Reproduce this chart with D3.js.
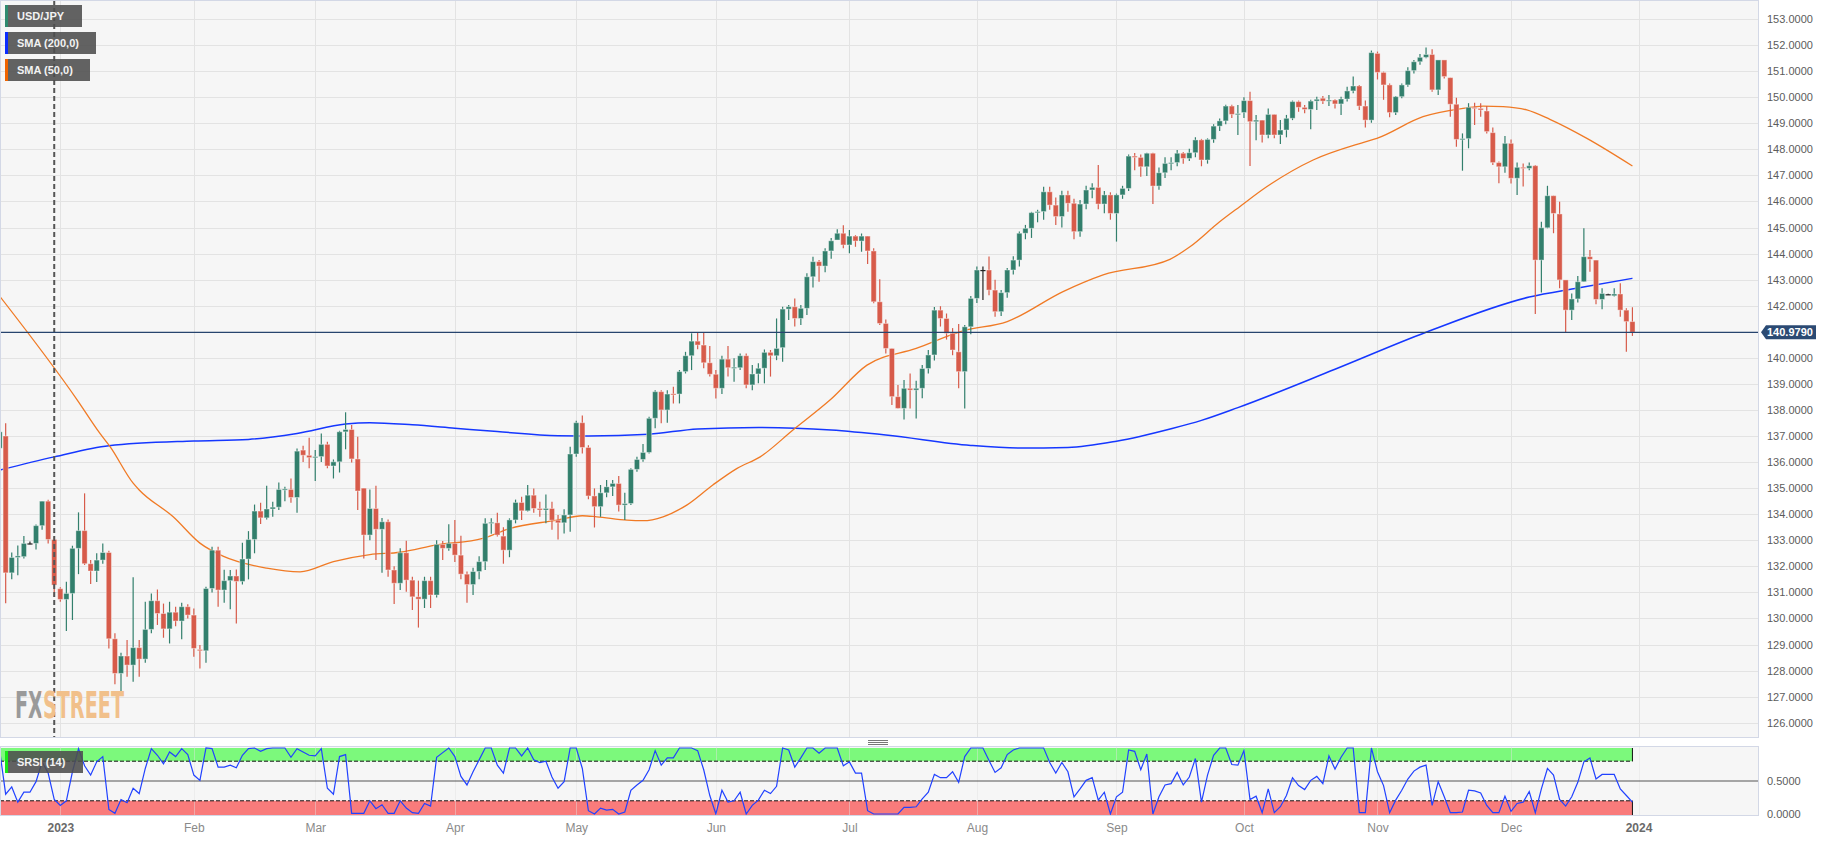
<!DOCTYPE html>
<html>
<head>
<meta charset="utf-8">
<script src="https://cdn.jsdelivr.net/npm/d3@7"></script>
<style>
  body { margin: 0; background: #fff; }
  text { font-family: "Liberation Sans", Arial, sans-serif; }
</style>
</head>
<body>
<div id="chart"></div>
<script>
// usd/jpy daily candles, one row per weekday from 19 dec 2022 to 29 dec 2023: [open, high, low, close]
const ohlc = [
  // dec 2022
  [136.53,137.30,136.40,137.16],[137.00,137.49,130.58,131.75],[131.75,132.53,131.50,132.34],[132.34,132.80,131.66,132.40],
  [132.37,133.16,132.30,132.88],[132.88,132.95,132.85,132.88],[132.88,133.60,132.65,133.56],[133.56,134.50,133.40,134.50],
  [134.50,134.55,132.88,133.03],[133.03,133.13,130.83,131.28],
  // jan
  [131.14,131.20,130.64,130.73],[130.73,131.41,129.52,130.96],[130.96,132.79,129.94,132.69],[132.69,134.07,131.70,133.37],
  [133.37,134.80,132.05,132.10],[132.10,132.24,131.32,131.82],[131.82,132.50,131.40,132.24],[132.24,132.88,132.10,132.53],
  [132.53,132.60,128.85,129.22],[129.22,129.43,127.48,127.89],[127.89,128.68,127.19,128.56],[128.56,129.17,127.76,128.21],
  [128.21,131.58,127.57,128.88],[128.88,129.17,127.76,128.44],[128.44,130.64,128.30,129.58],[129.58,130.96,129.43,130.68],
  [130.68,131.11,129.75,130.19],[130.19,130.57,129.26,129.60],[129.60,130.64,129.04,130.24],[130.24,130.45,129.70,129.90],
  [129.90,130.60,129.20,130.45],[130.45,130.54,130.00,130.13],
  // feb
  [130.13,130.38,128.53,128.85],[128.81,128.98,128.08,128.76],[128.76,131.22,128.30,131.15],[131.15,132.75,131.00,132.62],
  [132.62,132.75,130.45,131.09],[131.09,131.87,130.60,131.45],[131.45,131.86,130.35,131.63],[131.63,131.88,129.81,131.42],
  [131.42,132.90,131.30,132.28],[132.28,133.35,131.50,133.03],[133.03,134.37,132.50,134.12],[134.12,134.44,133.62,133.86],
  [133.86,135.09,133.80,134.20],[134.20,134.48,133.90,134.27],[134.27,135.22,134.16,134.95],[134.93,135.05,134.50,134.97],
  [134.95,135.37,134.44,134.64],[134.64,136.52,134.06,136.42],[136.46,136.63,136.00,136.26],[136.26,136.93,135.76,136.17],
  // mar
  [136.17,136.46,135.27,136.21],[136.21,137.10,136.00,136.68],[136.68,136.78,135.76,135.85],[135.85,136.10,135.37,136.01],
  [136.01,137.20,135.60,137.16],[137.16,137.91,136.49,137.25],[137.25,137.42,135.98,136.12],[136.12,136.97,134.16,134.89],
  [135.00,135.00,132.30,133.20],[133.20,134.95,133.00,134.22],[134.22,135.09,132.24,133.42],[133.42,133.85,131.75,133.71],
  [133.71,133.80,131.60,131.86],[131.86,132.00,130.55,131.35],[131.35,132.69,131.09,132.52],[132.52,132.98,131.02,131.47],
  [131.47,131.60,130.32,130.83],[130.83,131.45,129.65,130.74],[130.74,131.60,130.40,131.45],[131.45,131.60,130.40,130.90],
  [130.90,133.00,130.80,132.84],[132.84,132.97,132.24,132.69],[132.69,133.61,132.60,132.88],
  // apr
  [132.88,133.78,132.17,132.43],[132.43,133.17,131.50,131.70],[131.70,131.80,130.60,131.30],[131.30,131.95,130.90,131.80],
  [131.80,132.39,131.50,132.18],[132.18,133.84,131.86,133.65],[133.65,133.84,133.25,133.69],[133.67,134.06,133.14,133.20],
  [133.16,133.50,132.10,132.62],[132.62,133.84,132.35,133.78],[133.78,134.56,133.65,134.45],[134.45,134.67,133.78,134.13],
  [134.13,135.12,134.10,134.73],[134.73,134.99,134.06,134.22],[134.22,134.48,133.90,134.16],[134.16,134.76,133.65,134.22],
  [134.22,134.48,133.40,133.77],[133.77,133.97,133.03,133.67],[133.67,134.19,133.26,133.97],[133.97,136.59,133.33,136.31],
  // may
  [136.31,137.59,136.20,137.51],[137.51,137.79,136.33,136.56],[136.56,136.65,134.57,134.70],[134.70,134.99,133.49,134.29],
  [134.29,135.12,133.90,134.82],[134.82,135.31,134.65,135.05],[135.05,135.31,134.70,135.18],[135.18,135.47,134.10,134.35],
  [134.35,134.82,133.78,134.41],[134.41,135.76,134.35,135.72],[135.72,136.20,135.63,136.10],[136.10,136.69,136.01,136.37],
  [136.37,137.74,136.33,137.68],[137.68,138.76,137.30,138.70],[138.70,138.76,137.49,138.00],[138.00,138.76,137.51,138.61],
  [138.62,138.89,138.25,138.60],[138.61,139.53,138.25,139.47],[139.47,140.23,139.40,140.08],[140.08,140.94,139.53,140.64],
  [140.64,140.96,140.33,140.49],[140.49,140.96,139.60,139.81],[139.81,140.45,139.28,139.37],
  // jun
  [139.37,139.53,138.44,138.83],[138.83,140.08,138.61,139.95],[139.95,140.45,139.28,139.62],[139.62,139.98,139.08,139.64],
  [139.62,140.17,139.53,140.08],[140.08,140.17,138.83,138.96],[138.96,139.72,138.76,139.38],[139.38,139.79,139.02,139.60],
  [139.60,140.32,139.02,140.21],[140.21,140.30,139.28,140.08],[140.08,141.51,139.91,140.36],[140.39,141.96,139.85,141.87],
  [141.87,142.03,141.45,141.96],[141.96,142.28,141.20,141.51],[141.51,142.03,141.26,141.90],[141.90,143.24,141.64,143.11],
  [143.11,143.88,142.70,143.69],[143.69,143.75,142.92,143.52],[143.52,144.20,143.28,144.10],[144.10,144.60,143.80,144.49],
  [144.52,144.93,144.52,144.78],[144.78,145.09,144.20,144.33],
  // jul
  [144.33,144.90,144.01,144.67],[144.67,144.71,144.26,144.48],[144.48,144.77,144.07,144.67],[144.67,144.67,143.60,144.10],
  [144.10,144.20,142.09,142.15],[142.15,143.01,141.26,141.32],[141.32,141.47,140.17,140.36],[140.36,140.36,138.19,138.51],
  [138.51,138.96,138.06,138.06],[138.06,139.15,137.63,138.83],[138.83,139.40,138.06,138.76],[138.76,139.12,137.67,138.83],
  [138.83,139.72,138.45,139.59],[139.59,140.30,139.40,140.11],[140.11,141.95,139.90,141.83],[141.83,141.98,141.20,141.51],
  [141.51,141.70,140.70,140.94],[140.94,141.14,140.10,140.30],[140.23,141.30,138.83,139.47],[139.47,141.26,138.06,141.19],
  [141.19,142.37,140.90,142.28],
  // aug
  [142.28,143.50,142.10,143.37],[143.37,143.50,142.22,143.37],[143.37,143.89,142.40,142.60],[142.60,143.00,141.58,141.77],
  [141.77,142.60,141.60,142.50],[142.50,143.45,142.30,143.37],[143.37,143.90,143.20,143.75],[143.75,144.85,143.50,144.78],
  [144.78,145.10,144.55,144.97],[144.97,145.60,144.60,145.57],[145.57,145.68,145.20,145.61],[145.61,146.56,145.30,146.37],
  [146.37,146.56,145.68,145.86],[145.86,146.15,145.10,145.42],[145.42,146.41,145.00,146.25],[146.25,146.41,145.60,145.93],
  [145.93,146.10,144.55,144.84],[144.84,146.06,144.65,145.90],[145.90,146.60,145.70,146.44],[146.44,146.70,146.12,146.54],
  [146.54,147.40,145.70,145.90],[145.90,146.40,145.55,146.25],[146.25,146.35,145.30,145.54],
  // sep
  [145.54,146.30,144.46,146.25],[146.25,146.60,146.10,146.50],[146.50,147.80,146.40,147.74],[147.74,147.86,147.20,147.69],
  [147.69,147.80,146.95,147.33],[147.33,147.87,146.98,147.85],[147.85,147.87,145.90,146.59],[146.59,147.30,146.45,147.10],
  [147.10,147.70,146.90,147.46],[147.46,147.70,147.20,147.49],[147.49,147.97,147.35,147.85],[147.85,147.90,147.45,147.65],
  [147.65,148.02,147.55,147.87],[147.87,148.46,147.70,148.36],[148.36,148.40,147.35,147.59],[147.59,148.42,147.45,148.38],
  [148.38,148.96,148.25,148.89],[148.89,149.18,148.70,149.09],[149.09,149.71,148.96,149.66],[149.66,149.71,149.20,149.34],
  [149.34,149.70,148.55,149.37],
  // oct
  [149.41,150.00,149.20,149.87],[149.87,150.21,147.36,149.06],[149.06,149.32,148.35,149.12],[149.12,149.12,148.26,148.55],
  [148.55,149.57,148.42,149.34],[149.34,149.34,148.42,148.55],[148.55,149.12,148.20,148.74],[148.74,149.32,148.46,149.19],
  [149.19,149.87,149.12,149.83],[149.83,149.87,149.44,149.61],[149.61,149.70,149.38,149.53],[149.53,149.90,148.77,149.85],
  [149.85,150.02,149.51,149.92],[149.96,150.05,149.74,149.85],[149.85,150.08,149.66,149.89],[149.89,149.92,149.57,149.74],
  [149.74,150.02,149.32,149.93],[149.93,150.40,149.83,150.24],[150.24,150.79,150.15,150.43],[150.43,150.47,149.51,149.66],
  [149.66,149.87,148.84,149.12],[149.12,151.79,149.02,151.71],
  // nov
  [151.68,151.75,150.68,150.95],[150.95,150.98,149.90,150.47],[150.47,150.53,149.23,149.41],[149.41,150.05,149.32,150.02],
  [150.02,150.53,149.96,150.47],[150.47,151.15,150.40,151.02],[151.02,151.43,150.91,151.36],[151.36,151.66,151.24,151.53],
  [151.53,151.91,151.49,151.64],[151.64,151.84,150.21,150.28],[150.28,151.43,150.08,151.43],[151.43,151.43,150.72,150.79],
  [150.75,150.75,149.25,149.73],[149.73,149.98,148.10,148.38],[148.38,148.61,147.18,148.41],[148.41,149.77,148.04,149.61],
  [149.61,149.79,148.93,149.57],[149.57,149.77,149.25,149.51],[149.47,149.66,148.61,148.68],[148.64,148.84,147.40,147.49],
  [147.49,147.53,146.70,147.33],[147.33,148.51,147.10,148.23],
  // dec
  [148.23,148.38,146.69,146.89],[146.89,147.49,146.25,147.31],[147.31,147.46,146.57,147.27],[147.27,147.49,147.20,147.37],
  [147.37,147.40,141.68,143.75],[143.75,145.22,142.51,144.99],[144.99,146.60,144.97,146.22],[146.22,146.22,144.78,145.54],
  [145.52,145.99,142.67,142.99],[142.99,142.99,140.96,141.83],[141.83,142.47,141.45,142.26],[142.26,143.14,142.12,142.92],
  [142.92,144.97,142.92,143.88],[143.88,144.14,143.30,143.78],[143.75,143.75,142.06,142.24],[142.24,142.67,141.86,142.47],
  [142.44,142.46,142.42,142.44],[142.38,142.67,142.35,142.45],[142.45,142.86,141.58,141.83],[141.83,141.90,140.23,141.39],
  [141.39,141.94,140.84,140.98]
];

// moving averages at a set of candle positions
const sma200Idx = [0,9,18,32,41,49,57,61,68,75,82,92,97,107,115,125,137,146,160,168,176,184,193,198,204,220,235,252,260,269];
const sma200Val = [135.69,136.20,136.63,136.81,136.87,137.10,137.46,137.51,137.43,137.30,137.17,137.01,137.00,137.07,137.27,137.33,137.23,137.04,136.64,136.54,136.56,136.80,137.28,137.60,138.09,139.56,140.98,142.33,142.68,143.05];

const sma50Idx = [0,12.8,16.5,18.2,22,23,28.6,33,36.8,44,49.5,55,61,66,72,79.6,84,91.8,96,98.4,103.4,106,109.3,113.2,117.5,121.5,125.3,130.7,136.8,142.9,151,158.7,166,175.2,181.8,192.8,196.1,201,204.3,208.8,216.4,224.6,226.9,234.5,241.1,244.4,247.7,251.6,255.4,261.5,269];
const sma50Val = [142.37,138.38,137.11,136.59,135.19,134.93,133.90,132.89,132.39,131.93,131.79,132.18,132.45,132.54,132.82,133.07,133.45,133.77,133.94,133.90,133.77,133.75,133.90,134.35,135.12,135.76,136.20,137.23,138.38,139.72,140.36,141.03,141.39,142.54,143.18,143.78,144.26,145.22,145.80,146.57,147.59,148.26,148.42,149.25,149.57,149.66,149.64,149.51,149.15,148.42,147.36];

// stochastic rsi (14), one value per candle
const srsi = [
  0.97,0.30,0.41,0.18,0.33,0.33,0.49,0.79,0.62,0.22,
  0.13,0.20,0.64,0.99,0.73,0.59,0.79,0.87,0.07,0.01,
  0.22,0.17,0.39,0.31,0.69,0.99,0.89,0.76,0.94,0.87,
  0.99,0.90,0.59,0.51,1.00,0.99,0.71,0.71,0.74,0.70,
  0.89,0.99,1.00,0.95,0.99,1.00,1.00,1.00,0.86,0.99,
  0.94,0.89,0.88,0.99,0.39,0.30,0.87,0.90,0.01,0.01,
  0.01,0.20,0.08,0.14,0.01,0.01,0.20,0.09,0.02,0.01,
  0.16,0.12,0.86,0.93,1.00,0.87,0.57,0.44,0.64,0.82,
  1.00,1.00,0.74,0.62,1.00,1.00,0.88,1.00,0.82,0.78,
  0.80,0.56,0.39,0.49,1.00,1.00,0.69,0.05,0.00,0.09,
  0.06,0.07,0.00,0.03,0.36,0.44,0.51,0.67,0.96,0.74,
  0.85,0.85,1.00,1.00,1.00,0.96,0.67,0.28,0.00,0.36,
  0.18,0.20,0.33,0.00,0.13,0.21,0.36,0.31,0.42,1.00,
  0.97,0.71,0.85,1.00,1.00,0.92,1.00,1.00,1.00,0.73,
  0.79,0.62,0.62,0.05,0.00,0.00,0.00,0.00,0.00,0.10,
  0.10,0.11,0.23,0.33,0.60,0.55,0.55,0.64,0.48,0.87,
  1.00,1.00,1.00,0.81,0.63,0.70,0.90,0.97,1.00,1.00,
  1.00,1.00,1.00,0.78,0.62,0.78,0.64,0.26,0.38,0.51,
  0.55,0.21,0.33,0.00,0.26,0.33,0.97,0.95,0.67,0.91,
  0.00,0.26,0.44,0.46,0.63,0.44,0.56,0.84,0.18,0.59,
  0.89,1.00,1.00,0.75,0.74,0.96,0.22,0.27,0.02,0.38,
  0.02,0.11,0.28,0.55,0.43,0.37,0.51,0.57,0.46,0.88,
  0.68,0.86,1.00,1.00,0.02,0.02,1.00,0.64,0.43,0.02,
  0.21,0.36,0.53,0.65,0.71,0.74,0.13,0.49,0.26,0.02,
  0.02,0.03,0.36,0.35,0.32,0.13,0.02,0.02,0.27,0.04,
  0.16,0.18,0.34,0.02,0.38,0.69,0.59,0.22,0.12,0.26,
  0.48,0.79,0.85,0.53,0.60,0.60,0.60,0.38,0.28,0.18
];

// x axis: candle index of the first weekday of each month
const tickIdx = [10,32,52,75,95,118,140,161,184,205,227,249,270];
const tickLabels = ["2023","Feb","Mar","Apr","May","Jun","Jul","Aug","Sep","Oct","Nov","Dec","2024"];
const priceTicks = d3.range(126, 154);
const srsiTicks = [0, 0.5];
const lastPrice = 140.979;
const yearMarkIdx = 9;

function renderChart() {
    const W = 1835, H = 841;
    const plotRight = 1758, plotBottom = 737;
    const srsiTop = 747, srsiBottom = 815;

    const svg = d3.select("#chart").append("svg")
        .attr("width", W).attr("height", H);

    // scales
    const x = d3.scaleLinear().domain([0, 270]).range([-0.4, 1638.5]);
    const y = d3.scaleLinear().domain([126, 153]).range([722.7, 19]);
    const ys = d3.scaleLinear().domain([0, 1]).range([814, 748]);

    const defs = svg.append("defs");
    defs.append("clipPath").attr("id", "clipMain")
        .append("rect").attr("x", 0).attr("y", 0).attr("width", plotRight).attr("height", plotBottom);
    defs.append("clipPath").attr("id", "clipSrsi")
        .append("rect").attr("x", 0).attr("y", srsiTop).attr("width", plotRight).attr("height", srsiBottom - srsiTop);

    // two-tone fill for the watermark: grey "FX", orange "STREET"
    const logoGrad = defs.append("linearGradient").attr("id", "logoFill")
        .attr("gradientUnits", "userSpaceOnUse")
        .attr("x1", 15).attr("x2", 124).attr("y1", 0).attr("y2", 0);
    logoGrad.append("stop").attr("offset", 0).attr("stop-color", "#9a9a9a");
    logoGrad.append("stop").attr("offset", 0.24).attr("stop-color", "#9a9a9a");
    logoGrad.append("stop").attr("offset", 0.24).attr("stop-color", "#f1c08b");
    logoGrad.append("stop").attr("offset", 1).attr("stop-color", "#f1c08b");

    // panel backgrounds
    svg.append("rect").attr("x", 0.5).attr("y", 0.5).attr("width", plotRight).attr("height", plotBottom)
        .attr("fill", "#f6f6f6");
    svg.append("rect").attr("x", 0.5).attr("y", srsiTop - 0.5).attr("width", plotRight).attr("height", srsiBottom - srsiTop + 1)
        .attr("fill", "#f6f6f6");

    // grid
    const grid = svg.append("g").attr("stroke", "#e3e3e3").attr("stroke-width", 1);
    grid.selectAll("line.h").data(priceTicks).enter().append("line")
        .attr("x1", 0).attr("x2", plotRight)
        .attr("y1", d => Math.round(y(d)) + 0.5).attr("y2", d => Math.round(y(d)) + 0.5);
    grid.selectAll("line.v").data(tickIdx).enter().append("line")
        .attr("x1", d => Math.round(x(d)) + 0.5).attr("x2", d => Math.round(x(d)) + 0.5)
        .attr("y1", 0).attr("y2", plotBottom);

    const main = svg.append("g").attr("clip-path", "url(#clipMain)");

    // moving averages
    const smaLine = d3.line().x(d => x(d[0])).y(d => y(d[1])).curve(d3.curveMonotoneX);
    main.append("path")
        .datum(sma200Idx.map((d, k) => [d, sma200Val[k]]))
        .attr("d", smaLine).attr("fill", "none").attr("stroke", "#1537ff").attr("stroke-width", 1.5);
    main.append("path")
        .datum(sma50Idx.map((d, k) => [d, sma50Val[k]]))
        .attr("d", smaLine).attr("fill", "none").attr("stroke", "#f07a25").attr("stroke-width", 1.3);

    // candles
    const bars = ohlc.map((r, i) => {
        const o = r[0], c = r[3];
        const color = c > o ? "#327f6c" : (c < o ? "#d75b4a" : "#222");
        return {i: i, o: o, h: Math.max(r[1], o, c), l: Math.min(r[2], o, c), c: c, color: color};
    });
    const candle = main.selectAll("g.candle").data(bars).enter().append("g").attr("class", "candle");
    candle.append("line")
        .attr("x1", d => x(d.i)).attr("x2", d => x(d.i))
        .attr("y1", d => y(d.h)).attr("y2", d => y(d.l))
        .attr("stroke", d => d.color).attr("stroke-width", 1.2);
    candle.append("rect")
        .attr("x", d => x(d.i) - 2.6)
        .attr("width", 5.2)
        .attr("y", d => y(Math.max(d.o, d.c)))
        .attr("height", d => Math.max(1.2, Math.abs(y(d.o) - y(d.c))))
        .attr("fill", d => d.color)
        .attr("stroke", d => d.o === d.c ? "none" : "rgba(255,255,255,0.4)")
        .attr("stroke-width", 1);

    // year boundary marker
    svg.append("line")
        .attr("x1", x(yearMarkIdx)).attr("x2", x(yearMarkIdx))
        .attr("y1", 0).attr("y2", plotBottom)
        .attr("stroke", "#555").attr("stroke-width", 2).attr("stroke-dasharray", "5,3");

    // last price line
    svg.append("line")
        .attr("x1", 0).attr("x2", plotRight)
        .attr("y1", y(lastPrice)).attr("y2", y(lastPrice))
        .attr("stroke", "#27446e").attr("stroke-width", 1.3);

    // watermark
    svg.append("text").attr("x", 15).attr("y", 718)
        .attr("font-size", 38).attr("font-weight", "bold")
        .attr("textLength", 109).attr("lengthAdjust", "spacingAndGlyphs")
        .style("font-family", "'DejaVu Sans Condensed', 'Liberation Sans Narrow', sans-serif")
        .attr("fill", "url(#logoFill)").text("FXSTREET");

    // srsi panel
    const sub = svg.append("g").attr("clip-path", "url(#clipSrsi)");
    sub.append("rect").attr("x", 0).attr("width", x(269))
        .attr("y", ys(1)).attr("height", ys(0.8) - ys(1)).attr("fill", "#7cf97c");
    sub.append("rect").attr("x", 0).attr("width", x(269))
        .attr("y", ys(0.2)).attr("height", ys(0) - ys(0.2) + 1).attr("fill", "#f97b7b");
    sub.selectAll("line.v").data(tickIdx).enter().append("line")
        .attr("x1", d => Math.round(x(d)) + 0.5).attr("x2", d => Math.round(x(d)) + 0.5)
        .attr("y1", srsiTop).attr("y2", srsiBottom)
        .attr("stroke", "#e3e3e3").attr("stroke-opacity", 0.45);
    [0.8, 0.2].forEach(v => {
        sub.append("line").attr("x1", 0).attr("x2", x(269))
            .attr("y1", ys(v)).attr("y2", ys(v))
            .attr("stroke", "#111").attr("stroke-width", 1).attr("stroke-dasharray", "4,2");
    });
    sub.append("line").attr("x1", x(269)).attr("x2", x(269)).attr("y1", ys(1)).attr("y2", ys(0.8))
        .attr("stroke", "#111");
    sub.append("line").attr("x1", x(269)).attr("x2", x(269)).attr("y1", ys(0.2)).attr("y2", ys(0) + 1)
        .attr("stroke", "#111");
    sub.append("line").attr("x1", 0).attr("x2", plotRight).attr("y1", ys(0.5)).attr("y2", ys(0.5))
        .attr("stroke", "#555").attr("stroke-width", 1.2);
    sub.append("path")
        .datum(srsi)
        .attr("d", d3.line().x((d, i) => x(i)).y(d => ys(d)))
        .attr("fill", "none").attr("stroke", "#2142ff").attr("stroke-width", 1.2);

    // panel borders
    svg.append("rect").attr("x", 0.5).attr("y", 0.5).attr("width", plotRight).attr("height", plotBottom)
        .attr("fill", "none").attr("stroke", "#d3d8e6");
    svg.append("rect").attr("x", 0.5).attr("y", srsiTop - 0.5).attr("width", plotRight).attr("height", srsiBottom - srsiTop + 1)
        .attr("fill", "none").attr("stroke", "#d3d8e6");

    // resize handle between panels
    [740.5, 742.5, 744.5].forEach(hy => {
        svg.append("line").attr("x1", 868).attr("x2", 888).attr("y1", hy).attr("y2", hy)
            .attr("stroke", "#777").attr("stroke-width", 1);
    });

    // right price axis
    const yAxis = svg.append("g")
        .attr("transform", `translate(${plotRight},0)`)
        .call(d3.axisRight(y).tickValues(priceTicks).tickSize(0).tickPadding(9)
            .tickFormat(d3.format(".4f")));
    yAxis.select(".domain").remove();
    yAxis.selectAll("text").attr("font-size", 11).attr("fill", "#5c5c5c")
        .style("font-family", "'Liberation Sans', Arial, sans-serif");

    const sAxis = svg.append("g")
        .attr("transform", `translate(${plotRight},0)`)
        .call(d3.axisRight(ys).tickValues(srsiTicks).tickSize(0).tickPadding(9)
            .tickFormat(d3.format(".4f")));
    sAxis.select(".domain").remove();
    sAxis.selectAll("text").attr("font-size", 11).attr("fill", "#5c5c5c")
        .style("font-family", "'Liberation Sans', Arial, sans-serif");

    // last price tag
    const ly = y(lastPrice);
    svg.append("path")
        .attr("d", `M${plotRight + 3},${ly} L${plotRight + 8},${ly - 7} L${plotRight + 58},${ly - 7} L${plotRight + 58},${ly + 7} L${plotRight + 8},${ly + 7} Z`)
        .attr("fill", "#2b4a73");
    svg.append("text").attr("x", plotRight + 9).attr("y", ly + 4)
        .attr("font-size", 11).attr("font-weight", "bold").attr("fill", "#fff")
        .text(d3.format(".4f")(lastPrice));

    // bottom time axis
    const xAxis = svg.append("g")
        .attr("transform", `translate(0,${srsiBottom})`)
        .call(d3.axisBottom(x).tickValues(tickIdx).tickSize(0).tickPadding(8)
            .tickFormat((d, k) => tickLabels[k]));
    xAxis.select(".domain").remove();
    xAxis.selectAll("text")
        .attr("font-size", 12)
        .attr("font-weight", (d, k) => /^\d{4}$/.test(tickLabels[k]) ? "bold" : "normal")
        .attr("fill", (d, k) => /^\d{4}$/.test(tickLabels[k]) ? "#6a6a6a" : "#8a8a8a")
        .style("font-family", "'Liberation Sans', Arial, sans-serif");

    // legend tags
    const tags = [
        {label: "USD/JPY", color: "#2f8a6f", y: 5, w: 77},
        {label: "SMA (200,0)", color: "#0b2cff", y: 32, w: 91},
        {label: "SMA (50,0)", color: "#f06400", y: 59, w: 85},
        {label: "SRSI (14)", color: "#16e916", y: 751, w: 78}
    ];
    const tag = svg.selectAll("g.tag").data(tags).enter().append("g")
        .attr("transform", d => `translate(5,${d.y})`);
    tag.append("rect").attr("width", d => d.w).attr("height", 22).attr("fill", "#4d4d4d").attr("fill-opacity", 0.88);
    tag.append("rect").attr("width", 3).attr("height", 22).attr("fill", d => d.color);
    tag.append("text").attr("x", 12).attr("y", 15).attr("font-size", 11).attr("font-weight", "bold")
        .attr("fill", "#f2f2f2").text(d => d.label);
}

renderChart();
</script>
</body>
</html>
